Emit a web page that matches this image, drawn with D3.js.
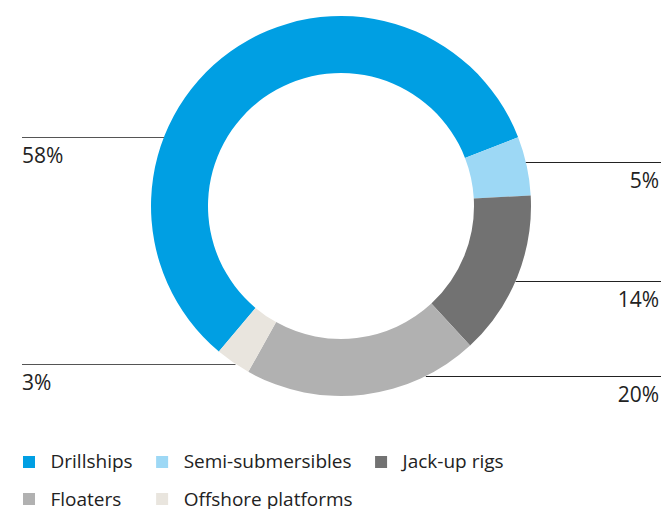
<!DOCTYPE html>
<html>
<head>
<meta charset="utf-8">
<script src="https://cdn.jsdelivr.net/npm/d3@7"></script>
<style>
  body { margin: 0; background: #fff; }
  svg { display: block; font-family: "Open Sans", sans-serif; }
</style>
</head>
<body>
<svg id="chart" width="661" height="509"></svg>
<script>
// data
const categories = ["Drillships", "Semi-submersibles", "Jack-up rigs", "Floaters", "Offshore platforms"];
const shares = [58, 5, 14, 20, 3];
const colors = ["#009fe3", "#9dd8f5", "#727272", "#b1b1b1", "#e9e5de"];

// label layout: which side and at which height each leader line sits
const labelSide = ["left", "right", "right", "right", "left"];
const labelLineY = [137, 162, 281, 376, 364];

const svg = d3.select("#chart");
const cx = 341, cy = 206;
const outerR = 190, innerR = 133;

const pie = d3.pie()
    .sort(null)
    .value(d => d)
    .startAngle(-140 * Math.PI / 180)
    .endAngle(220 * Math.PI / 180);

const arc = d3.arc().innerRadius(innerR).outerRadius(outerR);

const g = svg.append("g").attr("transform", `translate(${cx},${cy})`);

g.selectAll("path")
    .data(pie(shares))
    .enter().append("path")
    .attr("d", arc)
    .attr("fill", (d, i) => colors[i]);

// leader lines end where they meet the ring
shares.forEach((v, i) => {
    const y = labelLineY[i];
    const dy = y - cy;
    const dx = Math.sqrt(outerR * outerR - dy * dy);
    const left = labelSide[i] === "left";
    const x1 = left ? 22 : cx + dx;
    const x2 = left ? cx - dx : 661;

    svg.append("line")
        .attr("x1", x1).attr("x2", x2)
        .attr("y1", y + 0.5).attr("y2", y + 0.5)
        .attr("stroke", left ? "#555" : "#222")
        .attr("stroke-width", 1);

    svg.append("text")
        .attr("x", left ? 22 : 659)
        .attr("y", y + 26)
        .attr("text-anchor", left ? "start" : "end")
        .style("font-size", "21px")
        .style("fill", "#222")
        .text(v + "%");
});

// legend: first row flows, second row reuses its columns
const rows = [[0, 1, 2], [3, 4]];
const rowY = [456, 493];
const colX = [];
const legend = svg.append("g");
let x = 23;
rows[0].forEach((k, j) => {
    colX[j] = x;
    legend.append("rect")
        .attr("x", x).attr("y", rowY[0])
        .attr("width", 12).attr("height", 12)
        .attr("fill", colors[k]);
    const t = legend.append("text")
        .attr("x", x + 27.5).attr("y", rowY[0] + 11.7)
        .style("font-size", "19px")
        .style("fill", "#222")
        .text(categories[k]);
    x += 27.5 + t.node().getComputedTextLength() + 23.5;
});
rows[1].forEach((k, j) => {
    legend.append("rect")
        .attr("x", colX[j]).attr("y", rowY[1])
        .attr("width", 12).attr("height", 12)
        .attr("fill", colors[k]);
    legend.append("text")
        .attr("x", colX[j] + 27.5).attr("y", rowY[1] + 12.5)
        .style("font-size", "19px")
        .style("fill", "#222")
        .text(categories[k]);
});
</script>
</body>
</html>
